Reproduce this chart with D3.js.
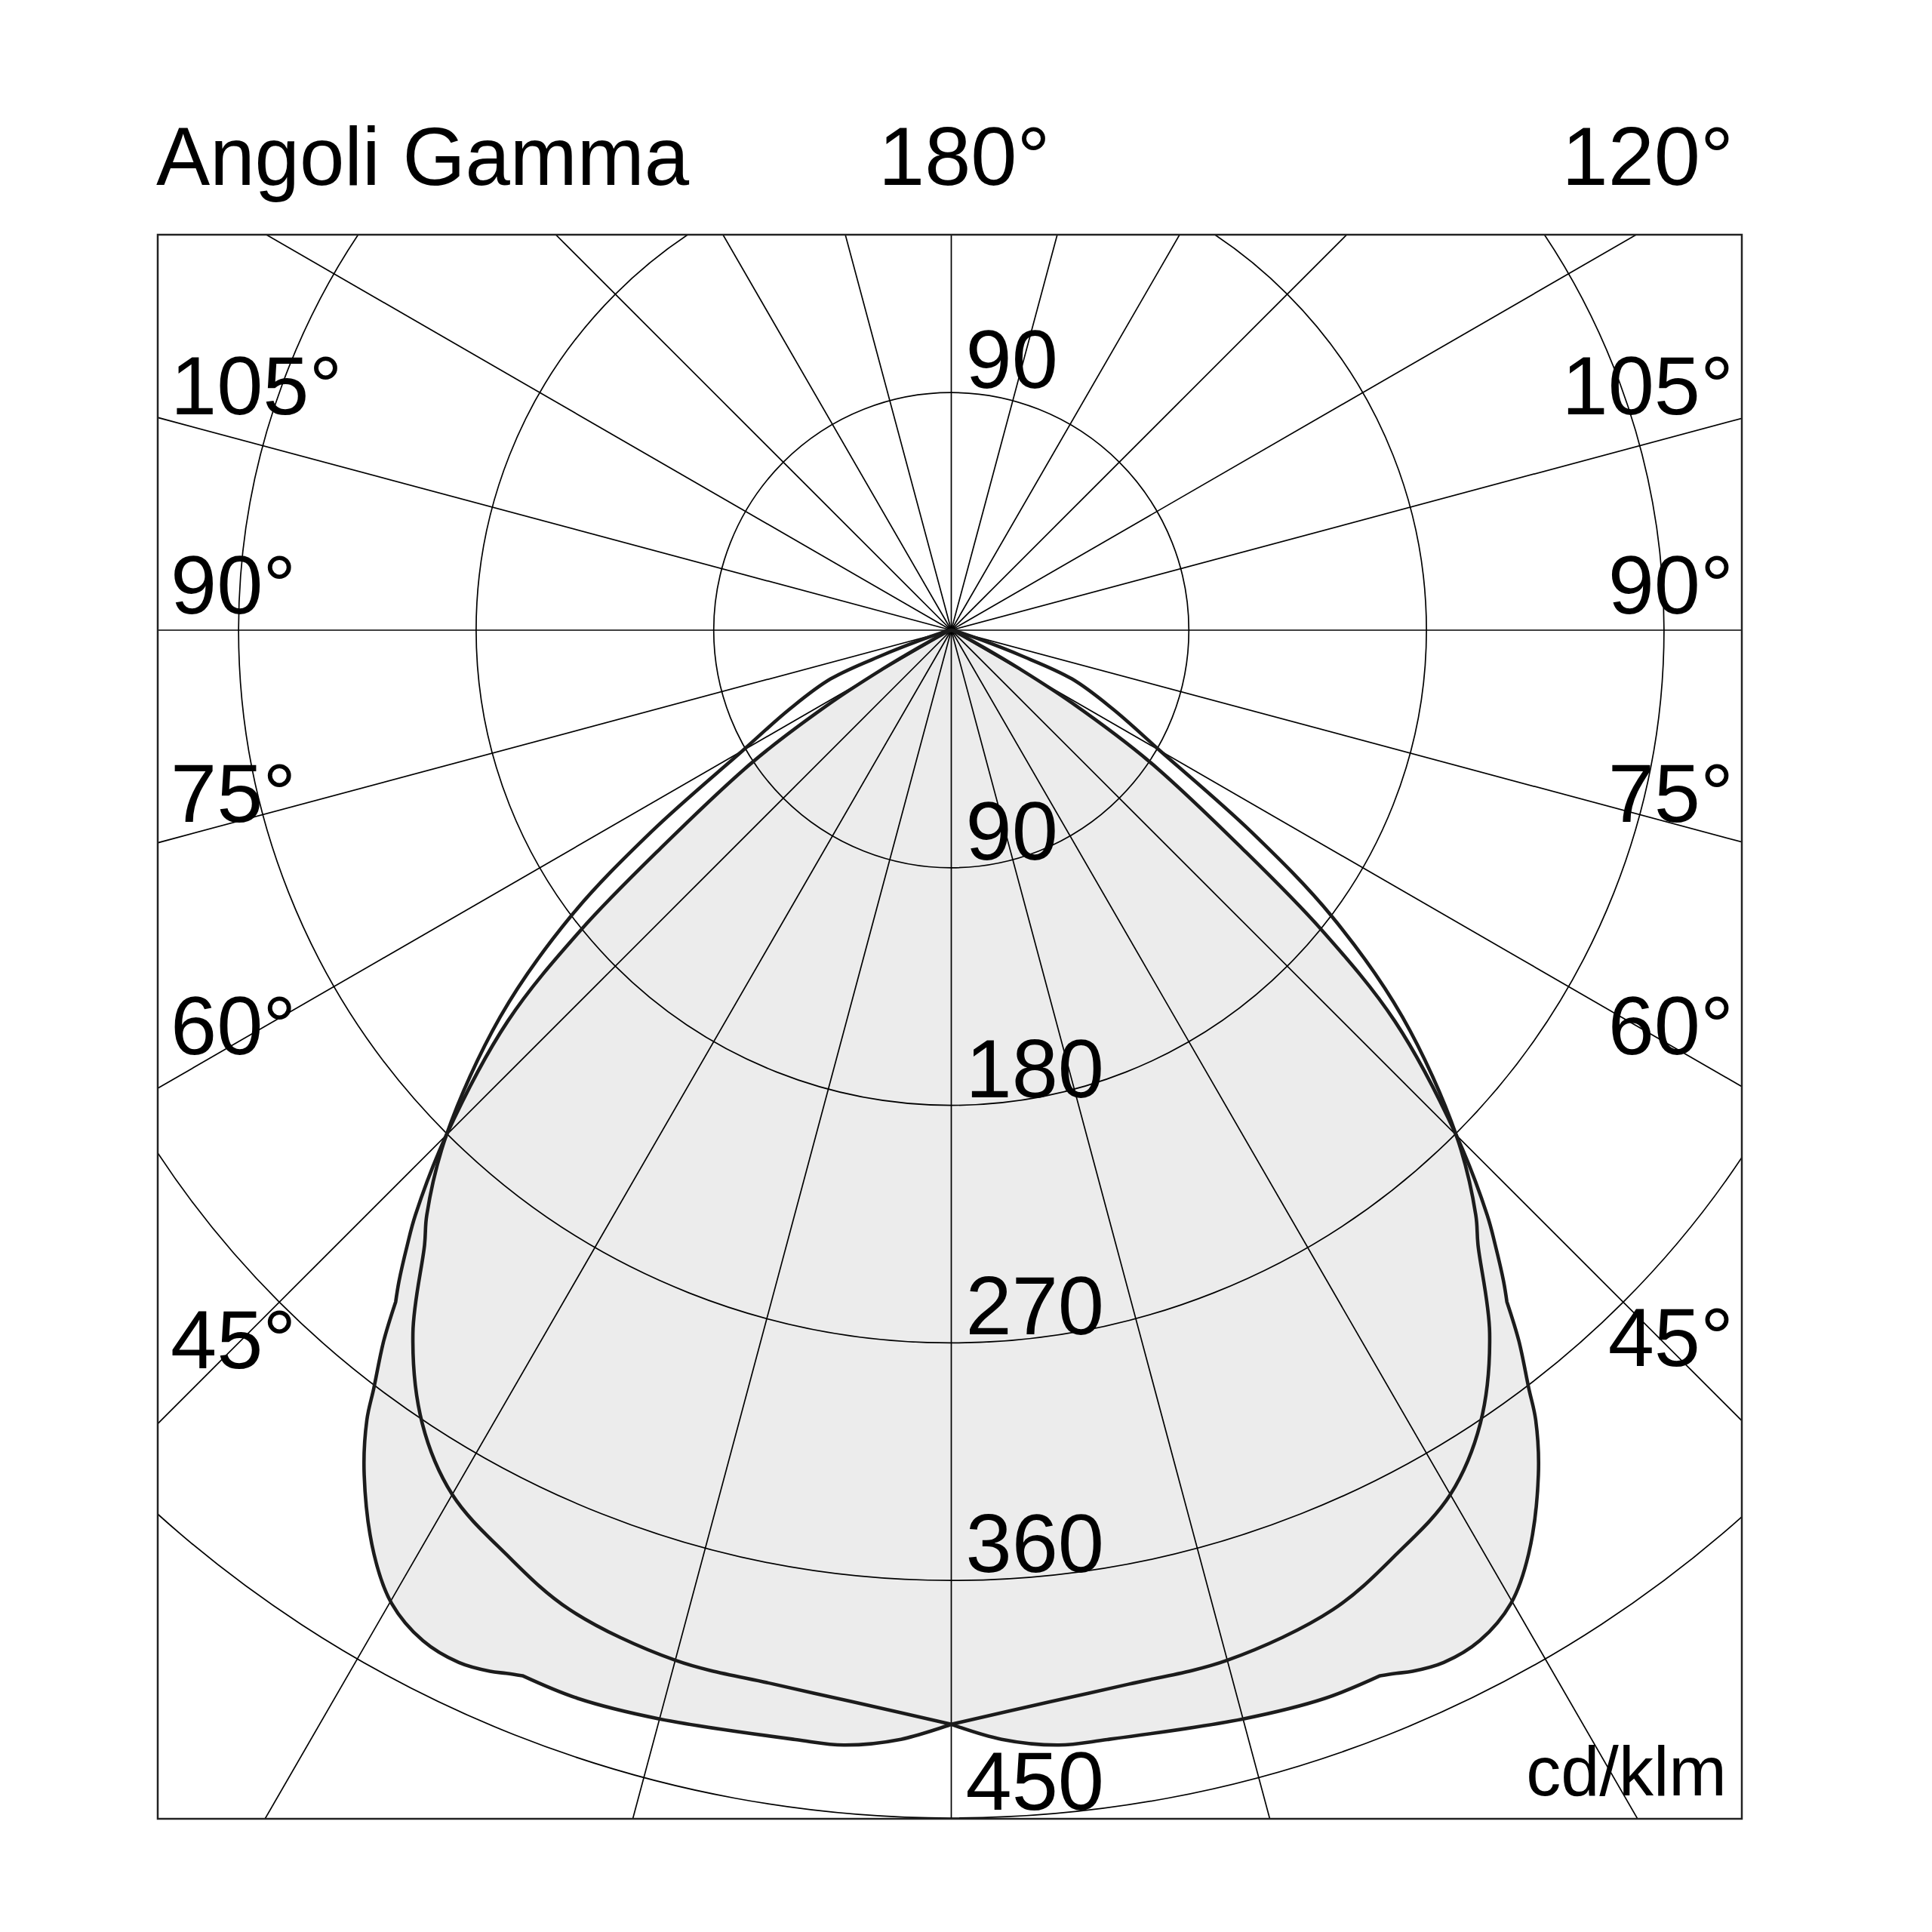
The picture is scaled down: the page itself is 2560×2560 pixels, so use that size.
<!DOCTYPE html>
<html><head><meta charset="utf-8">
<script src="https://cdn.jsdelivr.net/npm/d3@7"></script>
<style>
body{margin:0;background:#fff}
text{font-family:"Liberation Sans", Arial, Helvetica, sans-serif;fill:#000}
</style>
</head><body>
<svg id="chart" width="2560" height="2560"></svg>
<script>
// ---------- data ----------
const intensityTicks = [90, 180, 270, 360, 450];
const spokeStep = 15;
const leftAngleLabels = ["105°", "90°", "75°", "60°", "45°"];
const rightAngleLabels = ["105°", "90°", "75°", "60°", "45°"];
const titleLabel = "Angoli Gamma";
const topAngleLabels = ["180°", "120°"];
const unitLabel = "cd/klm";

// plane A (filled curve) : gamma (deg) and intensity (cd/klm)
const planeAGamma  = [0, 2.6, 5.5, 8, 15, 19.3, 22.3, 23.1, 23.9, 25.5, 27.6, 29.9, 32, 34.8, 36.5, 37.3, 38.6, 39.6, 40.3, 41.5, 42.5, 45, 48.6, 51, 53.1, 56.4, 58.9, 60.5, 62, 65, 70, 80, 90];
const planeAValues = [414.5, 420.6, 424.3, 424.4, 427, 428.7, 428.1, 429.6, 431.4, 433.3, 432, 425.3, 412.7, 389.7, 372.2, 361, 344.7, 330.2, 323.5, 311, 300.5, 270.5, 224, 180.7, 138, 90.6, 53.4, 30, 14, 4, 1, 0, 0];
const planeAKinks  = [22.3, 39.6];

// plane B (outline only)
const planeBGamma  = [0, 5.25, 9.55, 15, 21.3, 25.75, 30, 33.7, 37.45, 40.6, 41.9, 45, 49.4, 53.06, 56.1, 60, 64, 68, 70, 72, 75, 80, 90];
const planeBValues = [414.5, 407.7, 404.9, 404, 398.2, 388.5, 378.1, 361.2, 335.4, 306.6, 297.5, 270.5, 225, 180.3, 136.8, 91.3, 68, 49.3, 28, 12, 4, 1, 0];
const planeBKinks  = [];

// ---------- layout ----------
const frame = {x0: 209, y0: 311, x1: 2308, y1: 2410};
const cx = 1260.5, cy = 835;
const r = d3.scaleLinear().domain([0, 450]).range([0, 1574]);
const FS = 110;

const svg = d3.select("#chart");
svg.append("rect").attr("width", 2560).attr("height", 2560).attr("fill", "#fff");

svg.append("defs").append("clipPath").attr("id", "frameClip")
  .append("rect").attr("x", frame.x0).attr("y", frame.y0)
  .attr("width", frame.x1 - frame.x0).attr("height", frame.y1 - frame.y0);

const plot = svg.append("g").attr("clip-path", "url(#frameClip)");
const g = plot.append("g").attr("transform", `translate(${cx},${cy})`);

const radial = d3.lineRadial()
  .angle(d => Math.PI - d.g * Math.PI / 180)
  .radius(d => r(d.v))
  .curve(d3.curveCatmullRom.alpha(0.5));

// symmetric curve, drawn as smooth pieces joined with corners at gamma 0 and at kinks
function buildPath(gam, vals, kinks) {
  const pts = [];
  for (let i = gam.length - 1; i >= 0; i--) pts.push({g: -gam[i], v: vals[i]});
  for (let i = 1; i < gam.length; i++) pts.push({g: gam[i], v: vals[i]});
  const breaks = new Set([0, ...kinks, ...kinks.map(k => -k)]);
  const segs = [];
  let cur = [];
  pts.forEach((p, idx) => {
    cur.push(p);
    if (breaks.has(p.g) && idx > 0 && idx < pts.length - 1) { segs.push(cur); cur = [p]; }
  });
  segs.push(cur);
  return segs.map((s, i) => { const d = radial(s); return i === 0 ? d : d.replace(/^M/, "L"); }).join("");
}

const pathA = buildPath(planeAGamma, planeAValues, planeAKinks);
const pathB = buildPath(planeBGamma, planeBValues, planeBKinks);

// fill
g.append("path").attr("d", pathA + "Z").attr("fill", "#ececec").attr("stroke", "none");

// grid circles
g.selectAll("circle.grid").data(intensityTicks).join("circle")
  .attr("class", "grid").attr("r", d => r(d))
  .attr("fill", "none").attr("stroke", "#000").attr("stroke-width", 1.7);

// spokes
const spokeAngles = d3.range(0, 360, spokeStep);
const spokeLine = d3.lineRadial().angle(d => d.a).radius(d => d.rr);
g.selectAll("path.spoke").data(spokeAngles).join("path")
  .attr("class", "spoke")
  .attr("d", a => spokeLine([{a: a * Math.PI / 180, rr: 0}, {a: a * Math.PI / 180, rr: r(700)}]))
  .attr("stroke", "#000").attr("stroke-width", 1.7).attr("fill", "none");

// curves
g.append("path").attr("d", pathB).attr("fill", "none")
  .attr("stroke", "#1c1c1c").attr("stroke-width", 4.6).attr("stroke-linejoin", "round");
g.append("path").attr("d", pathA + "Z").attr("fill", "none")
  .attr("stroke", "#1c1c1c").attr("stroke-width", 4.6).attr("stroke-linejoin", "round");

// frame
svg.append("rect").attr("x", frame.x0).attr("y", frame.y0)
  .attr("width", frame.x1 - frame.x0).attr("height", frame.y1 - frame.y0)
  .attr("fill", "none").attr("stroke", "#222").attr("stroke-width", 2.5);

// ---------- labels ----------
svg.append("text").attr("x", 207).attr("y", 245).attr("font-size", FS)
  .attr("textLength", 706).attr("lengthAdjust", "spacingAndGlyphs").text(titleLabel);
svg.append("text").attr("x", 1164).attr("y", 245).attr("font-size", FS).text(topAngleLabels[0]);
svg.append("text").attr("x", 2297).attr("y", 245).attr("font-size", FS).attr("text-anchor", "end").text(topAngleLabels[1]);

const sideBaselines = [549, 813, 1089, 1397, 1813];
svg.selectAll("text.lside").data(leftAngleLabels).join("text")
  .attr("class", "lside").attr("x", 226).attr("y", (d, i) => sideBaselines[i])
  .attr("font-size", FS).text(d => d);
svg.selectAll("text.rside").data(rightAngleLabels).join("text")
  .attr("class", "rside").attr("x", 2297).attr("y", (d, i) => sideBaselines[i] - (i === 4 ? 3 : 0))
  .attr("text-anchor", "end").attr("font-size", FS).text(d => d);

// intensity labels (lower half) and the upper 90
svg.selectAll("text.ival").data(intensityTicks).join("text")
  .attr("class", "ival").attr("x", cx + 19).attr("y", d => cy + r(d) - 11)
  .attr("font-size", FS).text(d => d);
svg.append("text").attr("x", cx + 19).attr("y", cy - r(intensityTicks[0]) - 6)
  .attr("font-size", FS).text(intensityTicks[0]);

svg.append("text").attr("x", 2288).attr("y", 2379).attr("font-size", 92)
  .attr("text-anchor", "end").text(unitLabel);
</script>
</body></html>
